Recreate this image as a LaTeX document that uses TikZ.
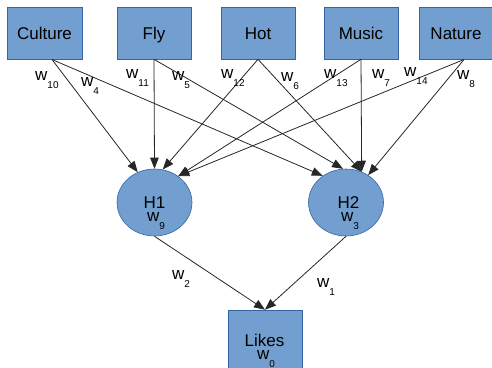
\documentclass[tikz,border=0pt]{standalone}
\usepackage{fontspec}
\setmainfont{Liberation Sans}
\usetikzlibrary{arrows.meta,shapes.geometric}
\definecolor{boxfill}{HTML}{729FCF}
\definecolor{boxline}{HTML}{3465A4}
\definecolor{edgecol}{HTML}{262626}
\newcommand{\wsub}[1]{w\raisebox{-8bp}{\fontsize{10bp}{10bp}\selectfont #1}}
\tikzset{
  inbox/.style={draw=boxline, fill=boxfill, line width=0.6bp, rectangle, minimum height=52bp, inner sep=0pt, text height=12.5bp, text depth=0bp, font=\fontsize{17bp}{20bp}\selectfont},
  hidden/.style={draw=boxline, fill=boxfill, line width=0.6bp, ellipse, minimum width=75bp, minimum height=67bp, inner sep=0pt},
  txt/.style={inner sep=0pt, font=\fontsize{17bp}{20bp}\selectfont},
  wlab/.style={inner sep=0pt, anchor=base west, font=\fontsize{17bp}{20bp}\selectfont},
  edge/.style={draw=edgecol, line width=0.8bp, -{Triangle[length=11bp,width=8.5bp]}}
}
\begin{document}
\begin{tikzpicture}[x=1bp,y=-1bp]
\useasboundingbox (0,0) rectangle (492,367);
\clip (0,0) rectangle (492,367);
% input boxes
\node[inbox, minimum width=75bp] (cul) at (44.5,33) {Culture};
\node[inbox, minimum width=74bp] (fly) at (154,33) {Fly};
\node[inbox, minimum width=74bp] (hot) at (258,33) {Hot};
\node[inbox, minimum width=74bp] (mus) at (361,33) {Music};
\node[inbox, minimum width=74bp] (nat) at (456,33) {Nature};
% start points
\coordinate (culS) at (52,59.5);
\coordinate (flyS) at (fly.south);
\coordinate (hotS) at (hot.south);
\coordinate (musS) at (mus.south);
\coordinate (natS) at (464,59.5);
% hidden
\node[hidden] (H1) at (154.5,202.5) {};
\node[hidden] (H2) at (346,202.5) {};
\node[txt] (h1t) at (154.5,203) {H1};
\node[txt] (h2t) at (348.5,203) {H2};
% output
\node[inbox, minimum width=74bp, minimum height=60bp] (lik) at (265,340) {};
\node[txt] (likt) at (264.5,340) {Likes};
% edges to H1
\draw[edge] (culS) -- (H1.119);
\draw[edge] (flyS) -- (H1.90);
\draw[edge] (hotS) -- (H1.76);
\draw[edge] (musS) -- (H1.48);
\draw[edge] (natS) -- (H1.48);
% edges to H2
\draw[edge] (culS) -- (H2.131);
\draw[edge] (flyS) -- (H2.95);
\draw[edge] (hotS) -- (H2.63);
\draw[edge] (musS) -- (H2.63);
\draw[edge] (natS) -- (H2.51);
% to output
\draw[edge] (H1.south) -- (lik.north);
\draw[edge] (H2.south) -- (lik.north);
% weight labels
\node[wlab] (w10) at (35,80.5) {\wsub{10}};
\node[wlab] (w4) at (81,86.5) {\wsub{4}};
\node[wlab] (w11) at (126,78.5) {\wsub{11}};
\node[wlab] (w5) at (172,80.5) {\wsub{5}};
\node[wlab] (w12) at (221,78.5) {\wsub{12}};
\node[wlab] (w6) at (281,81.5) {\wsub{6}};
\node[wlab] (w13) at (324,78.5) {\wsub{13}};
\node[wlab] (w7) at (372,78.5) {\wsub{7}};
\node[wlab] (w14) at (404,76.5) {\wsub{14}};
\node[wlab] (w8) at (457,79.5) {\wsub{8}};
\node[wlab] (w9) at (147,221.5) {\wsub{9}};
\node[wlab] (w3) at (341,221.5) {\wsub{3}};
\node[wlab] (w2) at (172,279.5) {\wsub{2}};
\node[wlab] (w1) at (317,287.5) {\wsub{1}};
\node[wlab] (w0) at (257,359.5) {\wsub{0}};
\end{tikzpicture}
\end{document}
